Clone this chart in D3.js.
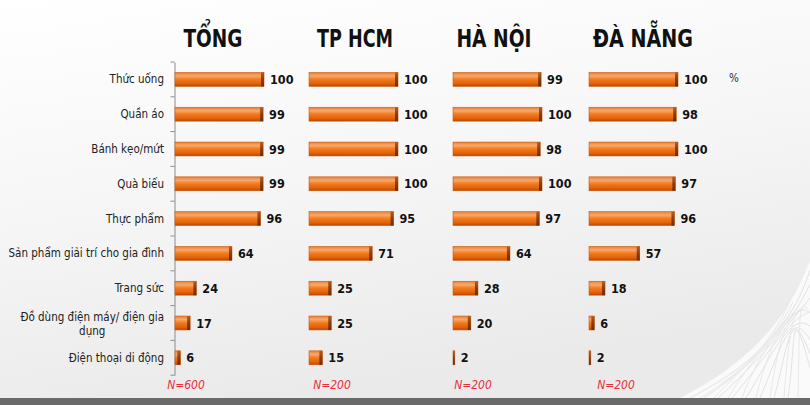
<!DOCTYPE html>
<html>
<head>
<meta charset="utf-8">
<script src="https://cdn.jsdelivr.net/npm/d3@7"></script>
<style>
  html, body { margin: 0; padding: 0; background: #fff; }
  svg { display: block; }
</style>
</head>
<body>
<svg id="chart" width="810" height="405"></svg>
<script>
/* globals d3 */

// Chart data
const categories = [
  'Thức uống', 'Quần áo', 'Bánh kẹo/mứt', 'Quà biếu', 'Thực phẩm',
  'Sản phẩm giải trí cho gia đình', 'Trang sức',
  'Đồ dùng điện máy/ điện gia dụng', 'Điện thoại di động'
];
const regions = ['TỔNG', 'TP HCM', 'HÀ NỘI', 'ĐÀ NẴNG'];
const sampleSizes = ['N=600', 'N=200', 'N=200', 'N=200'];
const tongValues = [100, 99, 99, 99, 96, 64, 24, 17, 6];
const hcmValues = [100, 100, 100, 100, 95, 71, 25, 25, 15];
const haNoiValues = [99, 100, 98, 100, 97, 64, 28, 20, 2];
const daNangValues = [100, 98, 100, 97, 96, 57, 18, 6, 2];
const seriesValues = [tongValues, hcmValues, haNoiValues, daNangValues];

// Layout
const width = 810;
const height = 405;
const panelStarts = [175, 309, 453, 589];
const titleCenters = [213, 355, 494, 643];
const titleWidths = [59, 76, 75, 100];
const nCenters = [186, 332, 473, 616];
const barMax = 89;

const svg = d3.select('#chart');
const defs = svg.append('defs');

// Background: light grey wash
const bg = defs.append('linearGradient').attr('id', 'bg')
  .attr('x1', 0).attr('y1', 0).attr('x2', 0.3).attr('y2', 1);
bg.append('stop').attr('offset', '0%').attr('stop-color', '#ffffff');
bg.append('stop').attr('offset', '50%').attr('stop-color', '#f6f6f6');
bg.append('stop').attr('offset', '100%').attr('stop-color', '#eaeaea');

const barGrad = defs.append('linearGradient').attr('id', 'barGrad')
  .attr('x1', 0).attr('y1', 0).attr('x2', 0).attr('y2', 1);
barGrad.append('stop').attr('offset', '0%').attr('stop-color', '#e8803a');
barGrad.append('stop').attr('offset', '25%').attr('stop-color', '#f8a86a');
barGrad.append('stop').attr('offset', '50%').attr('stop-color', '#f27a1c');
barGrad.append('stop').attr('offset', '80%').attr('stop-color', '#e2620a');
barGrad.append('stop').attr('offset', '100%').attr('stop-color', '#b24806');

const capGrad = defs.append('linearGradient').attr('id', 'capGrad')
  .attr('x1', 0).attr('y1', 0).attr('x2', 0).attr('y2', 1);
capGrad.append('stop').attr('offset', '0%').attr('stop-color', '#b85a20');
capGrad.append('stop').attr('offset', '50%').attr('stop-color', '#8e3c08');
capGrad.append('stop').attr('offset', '100%').attr('stop-color', '#6e2c04');

svg.append('rect').attr('width', width).attr('height', height).attr('fill', 'url(#bg)');

// Decorative white mesh in the bottom-right corner
const deco = svg.append('g');
deco.append('path')
  .attr('d', 'M680,398 C735,370 785,330 810,260 L810,398 Z')
  .attr('fill', '#ffffff').attr('opacity', 0.75);
for (let i = 0; i < 8; i++) {
  deco.append('path')
    .attr('d', `M${690 + i * 14},398 C${740 + i * 8},${372 - i * 4} ${790},${335 - i * 6} 810,${270 + i * 14}`)
    .attr('fill', 'none').attr('stroke', '#e2e2e2').attr('stroke-width', 1);
  deco.append('path')
    .attr('d', `M${700 + i * 14},398 C${730 + i * 10},${380 - i * 10} ${770 + i * 4},${350 - i * 8} ${790 + i * 3},${300 + i * 2}`)
    .attr('fill', 'none').attr('stroke', '#e8e8e8').attr('stroke-width', 1);
}

// Bottom band
svg.append('rect').attr('x', 0).attr('y', 398).attr('width', width).attr('height', 7)
  .attr('fill', '#6a6a6a');

// Shared category scale
const y = d3.scaleBand()
  .domain(categories)
  .range([62, 375.2])
  .paddingInner(0.6)
  .paddingOuter(0.3);
const yAxisScale = d3.scaleBand().domain(categories).range([62, 375.2]);

// Category axis on the first panel
const axis = svg.append('g')
  .attr('transform', `translate(${panelStarts[0] - 0.5},0)`)
  .call(d3.axisLeft(yAxisScale).tickSize(0).tickFormat(''));
axis.select('.domain').attr('stroke', '#8c8c8c');
axis.selectAll('.boundary')
  .data(d3.range(categories.length + 1))
  .enter().append('line')
  .attr('x1', -4).attr('x2', 0)
  .attr('y1', i => 62 + i * yAxisScale.step())
  .attr('y2', i => 62 + i * yAxisScale.step())
  .attr('stroke', '#8c8c8c');

// Category labels
const labelFont = '"DejaVu Sans Condensed", "DejaVu Sans", sans-serif';
const labelSize = 11.5;
const labels = svg.append('g');
categories.forEach(cat => {
  const cy = y(cat) + y.bandwidth() / 2;
  if (cat === 'Đồ dùng điện máy/ điện gia dụng') {
    const first = labels.append('text')
      .attr('x', 164).attr('y', cy - 2)
      .attr('text-anchor', 'end')
      .attr('font-family', labelFont).attr('font-size', labelSize).attr('fill', '#222')
      .text('Đồ dùng điện máy/ điện gia');
    const w = first.node().getComputedTextLength();
    labels.append('text')
      .attr('x', 164 - w / 2).attr('y', cy + 12)
      .attr('text-anchor', 'middle')
      .attr('font-family', labelFont).attr('font-size', labelSize).attr('fill', '#222')
      .text('dụng');
  } else {
    labels.append('text')
      .attr('x', 164).attr('y', cy + 4)
      .attr('text-anchor', 'end')
      .attr('font-family', labelFont).attr('font-size', labelSize).attr('fill', '#222')
      .text(cat);
  }
});

// Panels
regions.forEach((region, p) => {
  const x = d3.scaleLinear().domain([0, 100]).range([panelStarts[p], panelStarts[p] + barMax]);
  const barW = v => Math.max(1.5, x(v) - x(0));
  const g = svg.append('g').attr('class', 'panel');

  g.append('text')
    .attr('x', titleCenters[p]).attr('y', 46.5)
    .attr('text-anchor', 'middle')
    .attr('font-family', '"Liberation Sans Narrow", "DejaVu Sans Condensed", sans-serif')
    .attr('font-weight', 'bold')
    .attr('font-size', 25)
    .attr('fill', '#111')
    .attr('textLength', titleWidths[p])
    .attr('lengthAdjust', 'spacingAndGlyphs')
    .text(region);

  const rows = g.selectAll('.row')
    .data(categories.map((c, i) => ({ cat: c, value: seriesValues[p][i] })))
    .enter().append('g').attr('class', 'row');

  rows.append('rect')
    .attr('x', x(0))
    .attr('y', d => y(d.cat))
    .attr('width', d => barW(d.value))
    .attr('height', y.bandwidth())
    .attr('fill', 'url(#barGrad)')
    .attr('stroke', '#c85c14')
    .attr('stroke-width', 0.6);

  rows.append('rect')
    .attr('x', d => x(0) + barW(d.value) - Math.min(3, barW(d.value)))
    .attr('y', d => y(d.cat))
    .attr('width', d => Math.min(3, barW(d.value)))
    .attr('height', y.bandwidth())
    .attr('fill', 'url(#capGrad)');

  rows.append('text')
    .attr('x', d => x(0) + barW(d.value) + 6)
    .attr('y', d => y(d.cat) + y.bandwidth() / 2 + 4.5)
    .attr('font-family', labelFont)
    .attr('font-weight', 'bold')
    .attr('font-size', 12.5)
    .attr('fill', '#111')
    .text(d => d.value);

  g.append('text')
    .attr('x', nCenters[p]).attr('y', 389)
    .attr('text-anchor', 'middle')
    .attr('font-family', labelFont)
    .attr('font-style', 'italic')
    .attr('font-size', 12)
    .attr('fill', '#e8303c')
    .text(sampleSizes[p]);
});

svg.append('text')
  .attr('x', 734).attr('y', 82)
  .attr('text-anchor', 'middle')
  .attr('font-family', labelFont)
  .attr('font-size', 11.5)
  .attr('fill', '#333')
  .text('%');
</script>
</body>
</html>
